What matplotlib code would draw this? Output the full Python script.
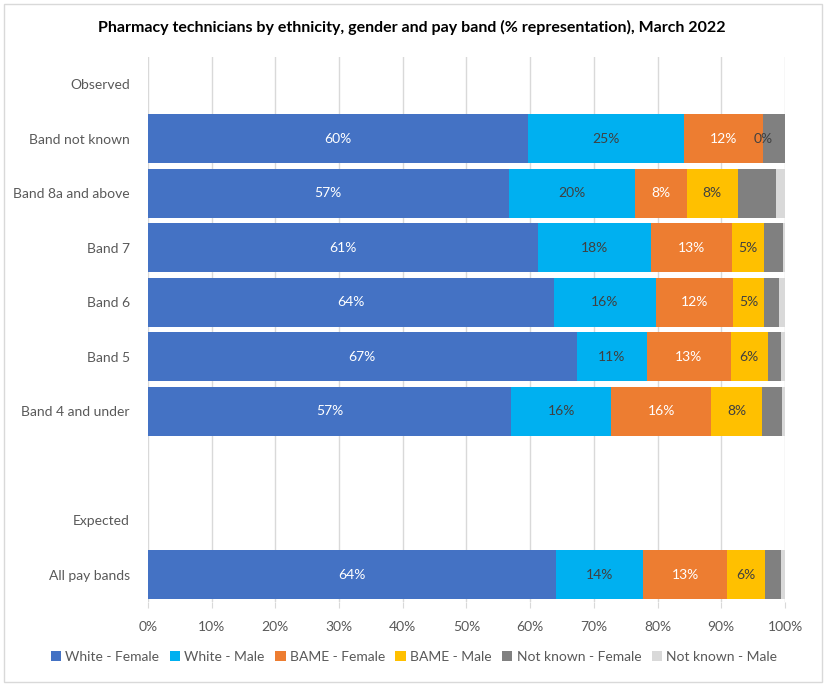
import numpy as np
import matplotlib.pyplot as plt
from matplotlib.patches import Rectangle

plt.rcParams['font.family'] = ['Lato', 'DejaVu Sans']

# Kategorien von oben nach unten ('' = leere Zeile)
categories = ['Observed', 'Band not known', 'Band 8a and above', 'Band 7', 'Band 6',
              'Band 5', 'Band 4 and under', '', 'Expected', 'All pay bands']

series = ['White - Female', 'White - Male', 'BAME - Female', 'BAME - Male',
          'Not known - Female', 'Not known - Male']

# Anteile in % (nan = kein Balken)
white_female = [np.nan, 59.6, 56.6, 61.2, 63.7, 67.3, 57.0, np.nan, np.nan, 64.1]
white_male = [np.nan, 24.6, 19.9, 17.8, 16.0, 11.0, 15.7, np.nan, np.nan, 13.6]
bame_female = [np.nan, 12.3, 8.1, 12.7, 12.1, 13.2, 15.7, np.nan, np.nan, 13.2]
bame_male = [np.nan, 0.0, 8.0, 5.0, 4.9, 5.8, 8.0, np.nan, np.nan, 6.0]
nk_female = [np.nan, 3.5, 6.0, 3.0, 2.4, 2.1, 3.1, np.nan, np.nan, 2.5]
nk_male = [np.nan, 0.0, 1.4, 0.3, 0.9, 0.6, 0.5, np.nan, np.nan, 0.6]

colors = ['#4472C4', '#00B0F0', '#ED7D31', '#FFC000', '#808080', '#D9D9D9']
label_colors = ['white', '#404040', 'white', '#404040', None, None]

data = [white_female, white_male, bame_female, bame_male, nk_female, nk_male]

fig = plt.figure(figsize=(8.28, 6.9), dpi=100)
ax = fig.add_axes([148 / 828, 1 - 602 / 690, (785 - 148) / 828, (602 - 57) / 690])

y = np.arange(len(categories))
left = np.zeros(len(categories))
for vals, col, lc, name in zip(data, colors, label_colors, series):
    v = np.array(vals, dtype=float)
    ok = ~np.isnan(v)
    ax.barh(y[ok], v[ok], left=left[ok], height=0.89, color=col, label=name, zorder=2)
    if lc is not None:
        for yi, vi, li in zip(y[ok], v[ok], left[ok]):
            ax.text(li + vi / 2, yi, f'{vi:.0f}%', ha='center', va='center',
                    color=lc, fontsize=10, zorder=3)
    left[ok] += v[ok]

ax.set_ylim(len(categories) - 0.5, -0.5)
ax.set_xlim(0, 100)
ax.set_yticks(y)
ax.set_yticklabels(categories, fontsize=10, color='#595959')
ax.set_xticks(np.arange(0, 101, 10))
ax.set_xticklabels([f'{t}%' for t in range(0, 101, 10)], fontsize=10, color='#595959')
ax.grid(axis='x', color='#D9D9D9', linewidth=1, zorder=0)
for s in ax.spines.values():
    s.set_visible(False)
ax.tick_params(axis='y', length=0, pad=13)
ax.tick_params(axis='x', length=4, color='#D9D9D9', pad=10)

fig.text(412 / 828, 1 - 27 / 690,
         'Pharmacy technicians by ethnicity, gender and pay band (% representation), March 2022',
         ha='center', va='center', fontsize=11.5, fontweight='bold', color='black')

fig.legend(loc='center', bbox_to_anchor=(0.5, 1 - 657 / 690), ncol=6, frameon=False,
           fontsize=10, handlelength=0.75, handleheight=0.75, handletextpad=0.3,
           columnspacing=0.75, labelcolor='#595959')

fig.patches.append(Rectangle((4 / 828, 1 - 682 / 690), 818 / 828, 678 / 690,
                             transform=fig.transFigure, fill=False,
                             edgecolor='#D9D9D9', linewidth=1))

fig.savefig('out.png', dpi=100)
